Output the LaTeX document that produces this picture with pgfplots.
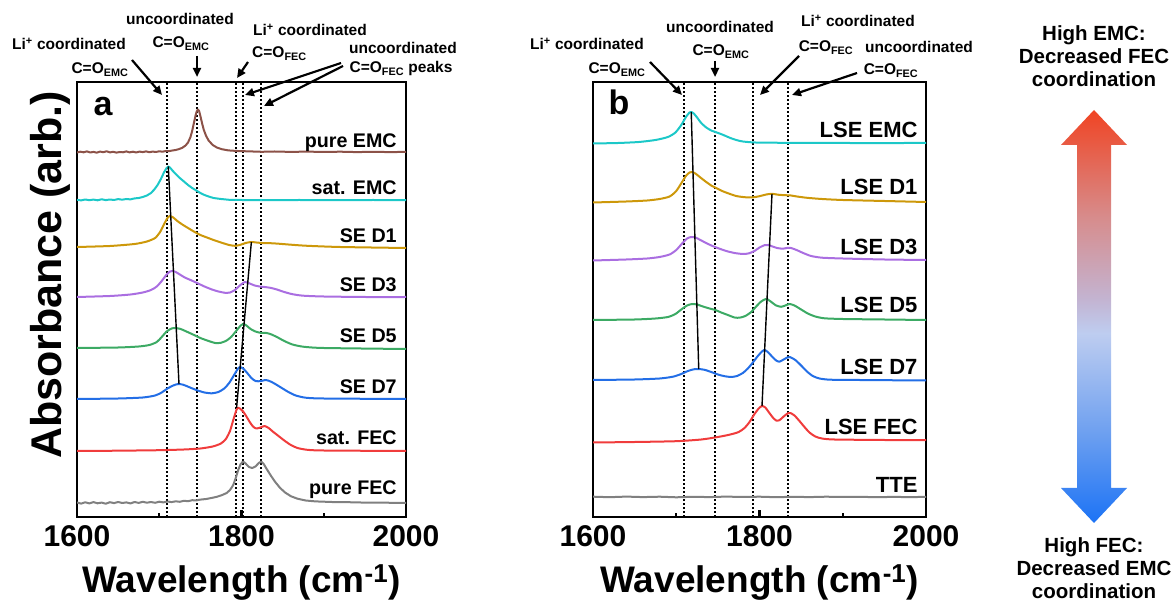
\documentclass[border=0pt]{standalone}
\usepackage{fontspec}
\setmainfont{Liberation Sans}
\usepackage{pgfplots}
\pgfplotsset{compat=1.18}
\usetikzlibrary{arrows.meta}

\definecolor{cEMC}{RGB}{140,82,72}
\definecolor{cSat}{RGB}{28,200,200}
\definecolor{cD1}{RGB}{205,152,10}
\definecolor{cD3}{RGB}{170,110,225}
\definecolor{cD5}{RGB}{60,170,100}
\definecolor{cD7}{RGB}{35,110,230}
\definecolor{cFEC}{RGB}{240,60,60}
\definecolor{cGray}{RGB}{128,128,128}
\definecolor{arrBlue}{RGB}{28,115,245}
\definecolor{arrB2}{RGB}{110,160,240}
\definecolor{arrLight}{RGB}{190,205,240}
\definecolor{arrLav}{RGB}{195,180,210}
\definecolor{arrPink}{RGB}{215,140,140}
\definecolor{arrRed}{RGB}{240,68,35}

\pgfdeclareverticalshading{coordshade}{100bp}{color(0bp)=(arrBlue); color(25bp)=(arrBlue); color(36bp)=(arrB2); color(48bp)=(arrLight); color(52bp)=(arrLav); color(62bp)=(arrPink); color(75bp)=(arrRed); color(100bp)=(arrRed)}

\newcommand{\bt}[1]{\fontsize{#1}{#1}\selectfont\bfseries}

\pgfplotsset{
    spec/.style={
        scale only axis, height=435pt,
        xmin=1600, xmax=2000, ymin=0, ymax=435,
        xtick={1600,1800,2000}, xticklabels={1600,1800,2000},
        minor xtick={1700,1900}, ytick=\empty,
        xtick pos=bottom, tick align=inside,
        major tick length=7pt, minor tick length=4pt,
        tick style={black, line width=2.2pt},
        axis line style={line width=2.8pt},
        xticklabel style={font=\bt{30}, yshift=-5pt},
        xlabel={Wavelength (cm\textsuperscript{-1})},
        xlabel style={font=\bt{37}, at={(axis description cs:0.5,0)}, anchor=base, yshift=-75pt},
        every axis plot/.append style={line width=2pt, line join=round},
    },
    vline/.style={black, line width=1.8pt, dash pattern=on 2pt off 2pt},
    guide/.style={black, line width=1.4pt},
}

\begin{document}
\begin{tikzpicture}
\path[use as bounding box] (0,0) rectangle (1174pt,602pt);

% ---------------- panel a ----------------
\begin{axis}[spec, at={(77pt,85pt)}, anchor=south west, width=329pt]
    \foreach \v in {1709,1746,1793,1802,1824} {
        \addplot[vline] coordinates {(\v,0) (\v,435)};
    }
    % pure EMC
    \addplot[cEMC] coordinates {(1600,364.5) (1604,365.3) (1608,364.7) (1612,365.6) (1616,364.5) (1620,365.1) (1624,364.3) (1628,365.4) (1632,364.8) (1636,365.7) (1640,364.6) (1644,365.2) (1648,364.4) (1652,365.0) (1656,364.7) (1660,365.6) (1664,364.6) (1668,365.3) (1672,364.5) (1676,365.4) (1680,364.9) (1684,365.6) (1688,364.8) (1692,365.4) (1696,365.0) (1700,365.7) (1704,365.3) (1708,366.0) (1712,365.9) (1716,366.5) (1720,367.0) (1724,367.9) (1728,369.2) (1732,371.5) (1735,374.5) (1738,380) (1740,386) (1742,393.5) (1744,401) (1745.5,405.5) (1747,407.5) (1748.5,406) (1750,401) (1752,394) (1754,387.5) (1757,381) (1760,376.5) (1765,372) (1770,369.5) (1776,367.8) (1784,366.6) (1795,366) (1810,365.6) (1825,365.2) (1840,365.5) (1860,365.1) (1880,365.4) (1900,365.0) (1920,365.3) (1940,364.9) (1960,365.2) (1980,364.9) (2000,365.1)};
    % sat. EMC
    \addplot[cSat] coordinates {(1600,317.2) (1605,316.6) (1610,317.5) (1615,316.8) (1620,317.4) (1625,316.7) (1630,317.7) (1635,316.9) (1640,317.5) (1645,317.0) (1650,317.9) (1655,317.3) (1660,318.0) (1665,317.6) (1670,318.6) (1675,319.0) (1680,320.0) (1685,321.5) (1690,324) (1694,327.5) (1698,332) (1702,338) (1706,345) (1709,349) (1711,350.5) (1713,349.5) (1716,346.5) (1720,343) (1725,339) (1730,335.5) (1735,332) (1740,329) (1745,326.5) (1750,324) (1755,322) (1760,320.5) (1766,319) (1775,318) (1785,317.2) (1800,317) (1830,316.8) (1870,317) (1920,316.8) (1960,317) (2000,316.8)};
    % SE D1
    \addplot[cD1, smooth, tension=0.4] coordinates {(1600,270) (1640,271) (1670,273) (1685,275.5) (1695,279) (1701,285) (1706,293) (1710,299) (1713,301) (1717,299.5) (1722,296) (1728,292.5) (1735,289) (1742,285.5) (1750,282) (1758,279.5) (1766,277) (1775,274.5) (1785,272) (1792,271.2) (1798,272) (1805,274) (1812,275) (1818,274.5) (1825,274) (1835,273.8) (1845,273.3) (1860,272.3) (1880,271.2) (1920,270) (2000,269)};
    % SE D3
    \addplot[cD3, smooth, tension=0.4] coordinates {(1600,220) (1640,221) (1665,222.5) (1680,224.5) (1690,227) (1697,230.5) (1703,236) (1708,241.5) (1713,245.5) (1716,246) (1720,245) (1725,242.5) (1731,239.5) (1738,237) (1746,234) (1755,230.5) (1764,227.5) (1772,225.5) (1780,224.2) (1786,224.5) (1792,227) (1798,231.5) (1804,235) (1810,233.5) (1816,231.5) (1822,230.5) (1828,230) (1835,229.2) (1843,227.5) (1852,225) (1862,222.8) (1875,221.3) (1900,220.5) (1950,220) (2000,220)};
    % SE D5
    \addplot[cD5, smooth, tension=0.4] coordinates {(1600,169) (1650,169.5) (1675,170.5) (1688,172) (1697,175) (1703,180) (1709,185.5) (1715,188.5) (1720,189) (1726,188) (1733,185.5) (1741,182.5) (1750,179) (1760,176) (1768,174) (1775,174.2) (1782,176.5) (1788,180.5) (1794,186.5) (1799,191.5) (1802,193) (1806,191.5) (1811,188) (1817,185.5) (1823,184.2) (1829,184.2) (1835,183) (1843,180) (1852,176) (1862,172.5) (1875,170.3) (1900,169) (2000,168)};
    % SE D7
    \addplot[cD7, smooth, tension=0.4] coordinates {(1600,118) (1650,118.5) (1680,119.5) (1695,121.5) (1703,124.5) (1710,128.5) (1717,131.5) (1723,133) (1729,132.3) (1736,130) (1745,127) (1755,124.5) (1764,123.7) (1772,125) (1779,128.5) (1785,134) (1791,142) (1795,147.5) (1798,150) (1802,148.5) (1807,144) (1812,139) (1817,136) (1823,135.8) (1829,137) (1834,136) (1840,133.5) (1848,129.5) (1857,125) (1866,121.5) (1878,119.3) (1900,118.5) (2000,118)};
    % sat. FEC
    \addplot[cFEC, smooth, tension=0.4] coordinates {(1600,66) (1650,66.3) (1700,66.8) (1730,67.5) (1750,68.5) (1765,70.5) (1775,73.5) (1781,78) (1786,86) (1790,97) (1793,105) (1795,109) (1798,108.5) (1802,105.5) (1806,100.5) (1810,95) (1814,90.5) (1818,88.5) (1823,89.5) (1828,91) (1833,89) (1838,85.5) (1845,81) (1852,76.5) (1860,72) (1868,69) (1880,67.2) (1900,66.5) (2000,66)};
    % pure FEC
    \addplot[cGray] coordinates {(1600,14.5) (1605,13.4) (1610,14.7) (1615,13.6) (1620,14.9) (1625,13.7) (1630,14.4) (1635,13.3) (1640,14.8) (1645,13.9) (1650,15.0) (1655,14.0) (1660,14.6) (1665,13.6) (1670,15.0) (1675,14.1) (1680,15.2) (1685,14.3) (1690,15.0) (1695,14.2) (1700,15.3) (1705,14.6) (1710,15.5) (1715,14.9) (1720,15.7) (1725,15.2) (1730,16.2) (1735,15.8) (1740,16.8) (1745,16.6) (1750,17.4) (1757,18.0) (1764,19.1) (1770,20.2) (1776,21.8) (1782,24) (1786,27) (1790,32) (1793,39) (1796,47) (1799,53) (1802,55.5) (1805,53.5) (1809,50) (1813,49) (1817,50.5) (1821,54) (1824,55.5) (1827,53) (1831,47.5) (1836,41) (1841,35) (1847,29) (1853,24.5) (1860,20.8) (1868,18.3) (1878,16.5) (1890,15.6) (1910,15) (1930,14.8) (1950,14.4) (1975,14.3) (2000,14)};
    % peak shift guides
    \addplot[guide] coordinates {(1711,350.5) (1724,133)};
    \addplot[guide] coordinates {(1812,275) (1794,109)};
    % labels
    \node[anchor=base east, font=\bt{19.7}] at (axis cs:1993,369) {pure EMC};
    \node[anchor=base east, font=\bt{19.7}] at (axis cs:1993,322) {sat. EMC};
    \node[anchor=base east, font=\bt{19.7}] at (axis cs:1993,274) {SE D1};
    \node[anchor=base east, font=\bt{19.7}] at (axis cs:1993,225) {SE D3};
    \node[anchor=base east, font=\bt{19.7}] at (axis cs:1993,174) {SE D5};
    \node[anchor=base east, font=\bt{19.7}] at (axis cs:1993,123) {SE D7};
    \node[anchor=base east, font=\bt{19.7}] at (axis cs:1993,72) {sat. FEC};
    \node[anchor=base east, font=\bt{19.7}] at (axis cs:1993,23) {pure FEC};
\end{axis}

% ---------------- panel b ----------------
\begin{axis}[spec, at={(593pt,85pt)}, anchor=south west, width=333pt]
    \foreach \v in {1709,1747,1792,1834} {
        \addplot[vline] coordinates {(\v,0) (\v,435)};
    }
    % LSE EMC
    \addplot[cSat, smooth, tension=0.4] coordinates {(1600,373.5) (1630,374) (1655,375) (1675,377) (1690,380) (1699,384.5) (1706,392) (1712,400.5) (1716,404.5) (1718,405) (1721,403.5) (1725,399.5) (1730,394) (1736,389.5) (1742,386.5) (1747,385) (1752,383.5) (1758,381.5) (1765,379) (1772,377) (1780,375.5) (1795,374.5) (1830,374.2) (1900,374) (2000,374)};
    % LSE D1
    \addplot[cD1, smooth, tension=0.4] coordinates {(1600,314.5) (1640,315.5) (1665,316.5) (1680,318) (1692,320.5) (1700,326) (1707,335) (1712,341.5) (1716,344.5) (1719,345) (1723,343.5) (1729,339.5) (1736,335) (1743,331) (1748,329) (1755,326) (1763,323.5) (1772,321) (1782,319.8) (1792,319.6) (1800,320.8) (1808,322.5) (1815,323.2) (1822,322.3) (1830,321.8) (1837,321.6) (1845,320.5) (1857,319.2) (1875,318) (1900,317) (1950,316) (2000,315)};
    % LSE D3
    \addplot[cD3, smooth, tension=0.4] coordinates {(1600,256.5) (1640,257.5) (1665,258.5) (1680,260) (1692,262.5) (1700,267) (1707,273.5) (1713,278.5) (1718,280) (1723,279.5) (1729,277) (1737,273.5) (1745,270.5) (1752,268.3) (1760,266) (1770,264) (1780,263) (1787,263.6) (1794,266) (1800,269.5) (1806,271.8) (1810,272) (1815,270.7) (1821,269) (1828,268.3) (1834,269.2) (1838,269) (1845,266.8) (1853,263.8) (1862,261) (1875,259.3) (1900,258.5) (1950,257.5) (2000,257)};
    % LSE D5
    \addplot[cD5, smooth, tension=0.4] coordinates {(1600,197) (1650,197.5) (1675,198.5) (1690,200) (1699,203) (1706,207.5) (1713,211.5) (1719,213) (1725,212.5) (1732,210.5) (1740,208.5) (1747,207) (1754,204.5) (1762,202) (1770,199.5) (1776,199.3) (1783,201) (1790,205) (1796,210.5) (1802,215.5) (1807,217.8) (1810,217.5) (1815,214.5) (1820,211.5) (1826,210.2) (1831,211.5) (1836,213) (1842,211.5) (1850,207.5) (1858,203.5) (1867,200.5) (1878,198.7) (1900,198) (1950,197.5) (2000,197)};
    % LSE D7
    \addplot[cD7, smooth, tension=0.4] coordinates {(1600,137) (1650,137.5) (1680,138.5) (1696,140.3) (1706,143) (1714,146) (1721,147.7) (1727,148) (1734,147.2) (1742,145) (1750,142.5) (1758,140.8) (1766,140) (1773,141) (1780,144) (1786,148.5) (1792,154.5) (1798,161) (1803,165.5) (1806,167) (1810,165) (1815,160.5) (1820,156.5) (1824,155.3) (1829,157.5) (1834,159.7) (1837,159.8) (1843,157) (1850,151.5) (1857,145.5) (1864,141) (1872,138.5) (1885,137.3) (1920,137) (2000,136.5)};
    % LSE FEC
    \addplot[cFEC, smooth, tension=0.4] coordinates {(1600,74.5) (1650,75) (1700,75.8) (1730,77.5) (1750,80) (1765,82.5) (1775,85) (1782,89) (1788,95) (1794,103) (1799,108.5) (1803,111) (1807,109.5) (1811,105) (1816,99.5) (1820,96.5) (1824,96.8) (1829,100.5) (1834,103.7) (1837,104) (1842,101.5) (1848,96) (1854,90) (1860,84.5) (1867,80.5) (1875,78.5) (1890,77.5) (1950,77) (2000,77)};
    % TTE
    \addplot[cGray] coordinates {(1600,20.3) (1620,19.8) (1640,20.4) (1660,19.9) (1680,20.3) (1700,19.7) (1720,20.2) (1740,19.9) (1760,20.4) (1780,20.0) (1800,20.3) (1820,19.8) (1840,20.2) (1860,19.9) (1880,20.3) (1900,20.0) (1920,20.2) (1940,19.8) (1960,20.1) (1980,19.9) (2000,20.1)};
    % peak shift guides
    \addplot[guide] coordinates {(1718,405) (1727,148)};
    \addplot[guide] coordinates {(1815,323.2) (1803,111)};
    % labels
    \node[anchor=base east, font=\bt{22}] at (axis cs:1994,379) {LSE EMC};
    \node[anchor=base east, font=\bt{22}] at (axis cs:1994,322) {LSE D1};
    \node[anchor=base east, font=\bt{22}] at (axis cs:1994,262) {LSE D3};
    \node[anchor=base east, font=\bt{22}] at (axis cs:1994,204) {LSE D5};
    \node[anchor=base east, font=\bt{22}] at (axis cs:1994,142) {LSE D7};
    \node[anchor=base east, font=\bt{22}] at (axis cs:1994,82) {LSE FEC};
    \node[anchor=base east, font=\bt{22}] at (axis cs:1994,24) {TTE};
\end{axis}

\begin{scope}[x=1pt, y=1pt]
    % y label and panel letters
    \node[rotate=90, anchor=base, font=\bt{43}] at (61,327) {Absorbance (arb.)};
    \node[anchor=base west, font=\bt{34}] at (90,486) {a};
    \node[anchor=base west, font=\bt{34}] at (605,487) {b};

    % annotations, panel a
    \begin{scope}[every node/.style={font=\bt{15.5}, anchor=base, inner sep=0pt}]
        \node at (69,552) {Li\textsuperscript{+} coordinated};
        \node at (100,528) {C=O\textsubscript{EMC}};
        \node at (180,577) {uncoordinated};
        \node at (181,554) {C=O\textsubscript{EMC}};
        \node at (310,566) {Li\textsuperscript{+} coordinated};
        \node[anchor=base west] at (252,544) {C=O\textsubscript{FEC}};
        \node at (403,548) {uncoordinated};
        \node at (401,529) {C=O\textsubscript{FEC} peaks};
        % panel b
        \node at (587,552) {Li\textsuperscript{+} coordinated};
        \node at (617,528) {C=O\textsubscript{EMC}};
        \node at (720,569) {uncoordinated};
        \node at (721,546) {C=O\textsubscript{EMC}};
        \node at (858,575) {Li\textsuperscript{+} coordinated};
        \node at (826,550) {C=O\textsubscript{FEC}};
        \node at (919,549) {uncoordinated};
        \node at (891,527) {C=O\textsubscript{FEC}};
    \end{scope}
    \begin{scope}[line width=2.2pt, -{Triangle[length=9pt, width=8pt]}]
        \draw (132,542) -- (162,507);
        \draw (197,546) -- (197,525);
        \draw (248,540) -- (237,524);
        \draw (341,539) -- (245,507);
        \draw (343,536) -- (264,496);
        \draw (650,540) -- (682,507);
        \draw (715,541) -- (715,525);
        \draw (799,546) -- (760,507);
        \draw (857,529) -- (792,507);
    \end{scope}

    % gradient arrow
    \shade[shading=coordshade] (1094,492) -- (1127,457) -- (1111,457) -- (1111,114) -- (1127,114)
        -- (1094,79) -- (1061,114) -- (1077,114) -- (1077,457) -- (1061,457) -- cycle;
    \begin{scope}[every node/.style={font=\bt{20.5}, anchor=base, inner sep=0pt}]
        \node at (1094,561) {High EMC:};
        \node at (1094,538) {Decreased FEC};
        \node at (1094,515) {coordination};
        \node at (1094,50) {High FEC:};
        \node at (1094,27) {Decreased EMC};
        \node at (1094,4) {coordination};
    \end{scope}
\end{scope}
\end{tikzpicture}
\end{document}
